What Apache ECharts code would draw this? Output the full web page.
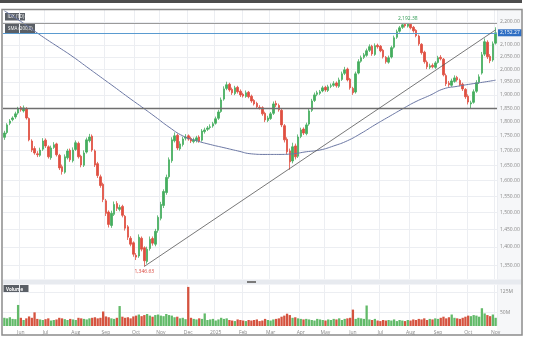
<!DOCTYPE html>
<html><head><meta charset="utf-8">
<script src="https://cdn.jsdelivr.net/npm/echarts@6/dist/echarts.min.js"></script>
<style>html,body{margin:0;padding:0;background:#fff}#c{width:536px;height:344px}</style>
</head><body><div id="c"></div>
<script>
const opens = [
1745,1762,1795,1808,1818,1832,1852,1840,1849,1812,
1732,1706,1688,1683,1704,1735,1712,1675,1710,1722,
1683,1645,1627,1675,1700,1665,1703,1724,1680,1650,
1694,1733,1749,1698,1655,1612,1588,1536,1502,1462,
1495,1528,1510,1519,1489,1458,1425,1412,1377,1375,
1425,1398,1360,1396,1424,1408,1448,1483,1522,1562,
1612,1665,1733,1752,1705,1720,1742,1750,1741,1730,
1734,1746,1735,1765,1773,1780,1785,1795,1813,1838,
1884,1925,1941,1921,1905,1929,1914,1902,1894,1910,
1895,1879,1868,1853,1852,1831,1805,1812,1831,1868,
1860,1842,1786,1738,1698,1664,1715,1680,1748,1774,
1758,1792,1842,1879,1902,1906,1915,1929,1917,1933,
1937,1946,1933,1960,1984,2001,1961,1925,1911,1985,
2033,2049,2057,2078,2095,2061,2099,2095,2078,2049,
2029,2050,2091,2133,2159,2176,2189,2181,2189,2176,
2163,2138,2103,2070,2029,2008,2016,2008,2028,2049,
2041,1975,1945,1937,1952,1968,1956,1941,1921,1895,
1866,1872,1914,1949,1985,2062,2112,2053,2038,2108];
const closes = [
1760,1789,1803,1814,1829,1848,1844,1851,1814,1736,
1701,1691,1685,1701,1732,1715,1678,1708,1719,1685,
1641,1629,1678,1698,1668,1701,1726,1678,1651,1691,
1736,1746,1701,1651,1616,1584,1540,1498,1465,1498,
1525,1513,1516,1492,1454,1428,1408,1380,1372,1428,
1394,1362,1394,1422,1411,1445,1486,1525,1565,1610,
1668,1736,1750,1708,1722,1739,1746,1739,1732,1736,
1743,1732,1767,1771,1778,1782,1793,1811,1836,1881,
1923,1939,1919,1908,1927,1912,1900,1896,1908,1893,
1877,1866,1855,1851,1829,1807,1814,1829,1866,1862,
1844,1789,1736,1695,1661,1712,1678,1746,1771,1760,
1789,1840,1877,1900,1908,1912,1927,1919,1931,1935,
1943,1935,1958,1982,1998,1958,1927,1908,1982,2031,
2047,2059,2076,2093,2063,2097,2093,2076,2051,2031,
2047,2089,2131,2157,2174,2187,2183,2191,2174,2161,
2140,2105,2068,2031,2010,2014,2010,2026,2047,2043,
1978,1943,1939,1954,1966,1958,1939,1923,1893,1873,
1870,1912,1947,1970,2059,2114,2051,2035,2105,2152.27];
const highs = [
1768,1795,1810,1820,1837,1855,1858,1860,1854,1816,
1738,1714,1697,1709,1742,1741,1717,1716,1728,1726,
1688,1652,1686,1705,1706,1710,1734,1730,1685,1700,
1744,1757,1755,1703,1661,1619,1593,1542,1507,1506,
1534,1535,1524,1524,1493,1463,1431,1416,1383,1436,
1430,1402,1401,1430,1430,1452,1492,1533,1572,1619,
1676,1745,1762,1758,1731,1747,1756,1755,1747,1744,
1750,1752,1774,1779,1785,1791,1800,1819,1844,1890,
1933,1951,1947,1928,1935,1935,1921,1908,1917,1915,
1901,1884,1874,1861,1857,1837,1822,1836,1875,1878,
1867,1847,1792,1745,1706,1726,1723,1755,1779,1780,
1797,1848,1885,1909,1916,1919,1935,1935,1939,1944,
1953,1952,1967,1991,2010,2007,1966,1931,1991,2041,
2056,2067,2085,2103,2101,2107,2106,2100,2084,2054,
2056,2097,2140,2166,2182,2191,2191,2192.38,2190,2182,
2168,2144,2108,2076,2036,2023,2024,2033,2055,2058,
2046,1983,1954,1963,1976,1974,1963,1947,1926,1902,
1878,1921,1957,1980,2071,2128,2120,2062,2115,2176];
const lows = [
1736,1756,1788,1802,1811,1826,1837,1834,1808,1731,
1694,1685,1677,1678,1698,1708,1672,1668,1705,1679,
1634,1619,1622,1669,1661,1659,1698,1672,1643,1644,
1689,1727,1695,1644,1608,1577,1532,1490,1456,1455,
1490,1505,1504,1486,1447,1420,1402,1373,1364,1370,
1388,1346.63,1354,1390,1404,1402,1441,1477,1514,1555,
1606,1658,1727,1701,1699,1713,1734,1733,1725,1724,
1727,1726,1730,1758,1767,1773,1779,1790,1807,1833,
1878,1918,1912,1900,1899,1905,1892,1890,1889,1887,
1870,1860,1848,1845,1822,1799,1799,1807,1825,1854,
1837,1781,1727,1687,1635,1656,1669,1674,1742,1753,
1752,1786,1836,1873,1895,1900,1910,1912,1911,1926,
1931,1928,1927,1954,1977,1952,1920,1900,1905,1980,
2027,2042,2051,2071,2055,2055,2085,2070,2044,2023,
2023,2044,2085,2126,2153,2169,2175,2175,2167,2153,
2133,2097,2060,2023,2001,2001,2004,2002,2023,2036,
1972,1934,1931,1931,1947,1951,1933,1915,1885,1864,
1850,1867,1908,1942,1979,2054,2042,2025,2031,2102];
const volumes = [
30,28,32,26,25,77,30,22,28,35,
30,50,26,24,22,25,28,20,22,24,
30,28,25,22,26,24,22,30,28,26,
24,28,30,32,28,30,53,35,32,28,
26,30,73,34,30,32,28,35,38,42,
36,40,44,38,34,40,42,38,36,44,
40,38,32,34,28,30,25,143,30,26,
24,28,26,46,22,24,26,20,24,30,
26,28,22,20,18,24,22,20,18,22,
20,22,24,18,20,26,22,20,24,26,
28,34,38,45,40,30,32,28,26,24,
26,24,22,20,26,24,22,20,24,22,
26,24,28,22,26,28,30,60,26,30,
28,26,75,24,22,26,20,18,22,20,
22,20,24,18,22,20,18,22,20,24,
22,26,24,28,22,26,24,28,26,30,
34,28,32,42,30,28,26,30,34,38,
36,40,38,34,65,46,40,36,42,30];
const smaIdx  = [0,5,10,15,20,25,30,35,40,45,50,55,60,65,70,75,80,85,90,95,100,105,110,115,120,125,130,135,140,145,150,155,160,165,170,175,179];
const smaVals = [2249,2210,2168,2127,2089,2051,2010,1970,1931,1892,1855,1818,1781,1750,1733,1720,1709,1698,1688,1686,1686,1688,1695,1701,1715,1733,1759,1789,1818,1847,1875,1898,1923,1933,1942,1950,1957];
const priceTicks = [1350,1400,1450,1500,1550,1600,1650,1700,1750,1800,1850,1900,1950,2000,2050,2100,2150,2200];
const volTicks = [50,125];
const monthLabels = ['Jun','Jul','Aug','Sep','Oct','Nov','Dec','2025','Feb','Mar','Apr','May','Jun','Jul','Aug','Sep','Oct','Nov'];
const monthIdx = [6,15,26,37,48,57,67,77,87,97,108,117,127,137,148,158,169,179];
const levelLines = [1850, 2192.38];
const trendIdx = [51, 179];
const trendVals = [1346.63, 2165];
const legendTexts = ['IDX (1D)', 'SMA (200,0)', 'Volume'];

const categories = closes.map((_, i) => String(i));
const fmt = v => Number(v).toLocaleString('en-US', {minimumFractionDigits: 2, maximumFractionDigits: 2});
const last = closes.length - 1;
const hiIdx = highs.indexOf(Math.max(...highs));
const loIdx = lows.indexOf(Math.min(...lows));
const UP = '#45ad5e', DOWN = '#df4f41';
const FONT = 'Open Sans';
const monthSet = new Set(monthIdx);

const chart = echarts.init(document.getElementById('c'), null, {renderer: 'canvas'});
chart.setOption({
  animation: false,
  backgroundColor: '#fff',
  textStyle: {fontFamily: FONT},
  grid: [
    {left: 3, right: 39, top: 10, height: 269},
    {left: 3, right: 39, top: 285, height: 41}
  ],
  xAxis: [
    {type: 'category', gridIndex: 0, data: categories, boundaryGap: true,
     axisLine: {show: false}, axisTick: {show: false}, axisLabel: {show: false},
     splitLine: {show: true, interval: (i) => monthSet.has(i), lineStyle: {color: '#eceef2', width: 1}}},
    {type: 'category', gridIndex: 1, data: categories, boundaryGap: true,
     axisLine: {show: false}, axisTick: {show: false},
     axisLabel: {show: true, interval: (i) => monthSet.has(i), fontSize: 5, color: '#888', margin: 4,
       formatter: (v, i) => monthLabels[monthIdx.indexOf(Number(v))] || ''},
     splitLine: {show: true, interval: (i) => monthSet.has(i), lineStyle: {color: '#eceef2', width: 1}}}
  ],
  yAxis: [
    {type: 'log', gridIndex: 0, position: 'right', min: 1313, max: 2253, logBase: 10,
     axisLine: {show: false},
     axisTick: {show: false, customValues: priceTicks},
     axisLabel: {show: true, customValues: priceTicks, formatter: v => fmt(v), fontSize: 5, color: '#888', margin: 3},
     splitLine: {show: true, lineStyle: {color: '#eceef2', width: 1}}},
    {type: 'value', gridIndex: 1, position: 'right', min: 0, max: 150,
     axisLine: {show: false},
     axisTick: {show: false, customValues: volTicks},
     axisLabel: {show: true, customValues: volTicks, formatter: v => v + 'M', fontSize: 5, color: '#888', margin: 3},
     splitLine: {show: true, lineStyle: {color: '#eceef2', width: 1}}}
  ],
  series: [
    {type: 'candlestick', xAxisIndex: 0, yAxisIndex: 0, barWidth: 2,
     data: closes.map((c, i) => [opens[i], c, lows[i], highs[i]]),
     itemStyle: {color: UP, color0: DOWN, borderColor: UP, borderColor0: DOWN, borderWidth: 0.8},
     markLine: {silent: true, symbol: 'none', animation: false,
       data: [
         {yAxis: levelLines[0], lineStyle: {color: '#6f6f6f', width: 1.3, type: 'solid'}, label: {show: false}},
         {yAxis: levelLines[1], lineStyle: {color: '#9a9a9a', width: 1, type: 'solid'}, label: {show: false}},
         {yAxis: closes[last], lineStyle: {color: '#5a9bd0', width: 1, type: 'solid'},
          label: {show: true, position: 'end', distance: 1, formatter: () => fmt(closes[last]), color: '#fff',
                  backgroundColor: '#2f6fc4', fontSize: 5, padding: [1, 2], fontFamily: FONT}},
         [{coord: [String(trendIdx[0]), trendVals[0]], lineStyle: {color: '#555', width: 0.8, type: 'solid'}, label: {show: false}},
          {coord: [String(trendIdx[1]), trendVals[1]]}]
       ]},
     markPoint: {silent: true, symbol: 'circle', symbolSize: 0,
       data: [
         {coord: [String(hiIdx), highs[hiIdx]], label: {show: true, position: 'top', distance: 3, formatter: () => fmt(highs[hiIdx]), color: '#2e9a52', fontSize: 5, fontFamily: FONT}},
         {coord: [String(loIdx), lows[loIdx]], label: {show: true, position: 'bottom', distance: 3, formatter: () => fmt(lows[loIdx]), color: '#d9433b', fontSize: 5, fontFamily: FONT}}
       ]}
    },
    {type: 'line', xAxisIndex: 0, yAxisIndex: 0, data: smaIdx.map((k, j) => [k, smaVals[j]]),
     smooth: true, showSymbol: false, clip: true, lineStyle: {color: '#6b77a3', width: 1}},
    {type: 'bar', xAxisIndex: 1, yAxisIndex: 1, barWidth: 2.3, data: volumes,
     itemStyle: {color: p => closes[p.dataIndex] >= opens[p.dataIndex] ? '#62ba69' : '#d5533f'}}
  ],
  graphic: [
    {type: 'rect', z: -10, shape: {x: 497, y: 10, width: 24, height: 325}, style: {fill: '#f6f7f9'}},
    {type: 'rect', z: 100, shape: {x: 0, y: 0, width: 522, height: 3}, style: {fill: '#4d4d4d'}},
    {type: 'rect', z: 100, shape: {x: 2, y: 9.5, width: 520, height: 325.5}, style: {fill: null, stroke: '#8c8c8c', lineWidth: 1.5}},
    {type: 'rect', z: 50, shape: {x: 3, y: 279.5, width: 518, height: 5}, style: {fill: '#e7eaef'}},
    {type: 'rect', z: 51, shape: {x: 247, y: 281, width: 9, height: 2}, style: {fill: '#7a7a7a'}},
    {type: 'group', z: 60, left: 5, top: 13, children: [
      {type: 'rect', shape: {x: 0, y: 0, width: 20, height: 7.5}, style: {fill: '#5a5f66'}},
      {type: 'text', style: {x: 2.5, y: 1.5, text: legendTexts[0], fill: '#fff', fontSize: 4.5, fontFamily: FONT}}
    ]},
    {type: 'group', z: 60, left: 5, top: 24, children: [
      {type: 'rect', shape: {x: 0, y: 0, width: 30, height: 9}, style: {fill: '#5a5f66'}},
      {type: 'text', style: {x: 3, y: 2.3, text: legendTexts[1], fill: '#fff', fontSize: 4.5, fontFamily: FONT}}
    ]},
    {type: 'group', z: 60, left: 3.5, top: 285, children: [
      {type: 'rect', shape: {x: 0, y: 0, width: 25, height: 8}, style: {fill: '#5a5f66'}},
      {type: 'text', style: {x: 2.5, y: 1.8, text: legendTexts[2], fill: '#fff', fontSize: 4.5, fontWeight: 'bold', fontFamily: FONT}}
    ]}
  ]
});
</script></body></html>
